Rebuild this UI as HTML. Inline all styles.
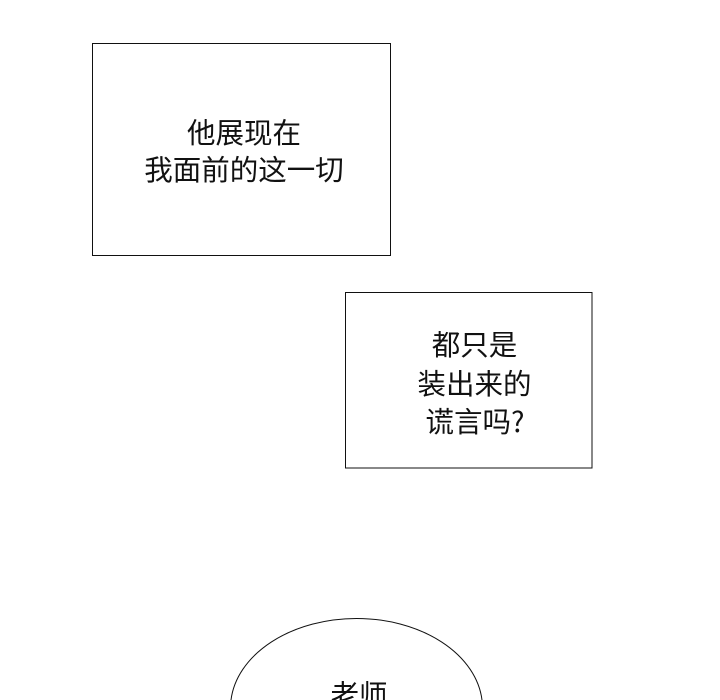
<!DOCTYPE html>
<html>
<head>
<meta charset="utf-8">
<style>
html,body{margin:0;padding:0;background:#fff;overflow:hidden;}
#c{position:relative;width:720px;height:700px;overflow:hidden;background:#fff;}
.t{position:absolute;font-family:"Noto Sans CJK SC",sans-serif;font-size:28.500px;line-height:38px;color:#111;white-space:nowrap;text-align:center;font-weight:400;}
svg{position:absolute;left:0;top:0;}
</style>
</head>
<body>
<div id="c">
<svg width="720" height="700" viewBox="0 0 720 700">
<rect x="92.500" y="43.500" width="298" height="212" fill="#fff" stroke="#111" stroke-width="1"/>
<rect x="345.500" y="292.500" width="246.500" height="175.500" fill="#fff" stroke="#111" stroke-width="1"/>
<path d="M231 700 A126 89.500 0 0 1 482 700" fill="#fff" stroke="#111" stroke-width="1"/>
</svg>
<div class="t" style="left:95px;width:298px;top:113px;">他展现在</div>
<div class="t" style="left:97px;width:294px;top:150px;">我面前的这一切</div>
<div class="t" style="left:345px;width:259px;top:325px;">都只是</div>
<div class="t" style="left:345px;width:259px;top:364px;">装出来的</div>
<div class="t" style="left:345px;width:260px;top:402px;">谎言吗?</div>
<div class="t" style="left:233px;width:252px;top:675px;height:25px;overflow:hidden;">老师</div>
</div>
</body>
</html>
